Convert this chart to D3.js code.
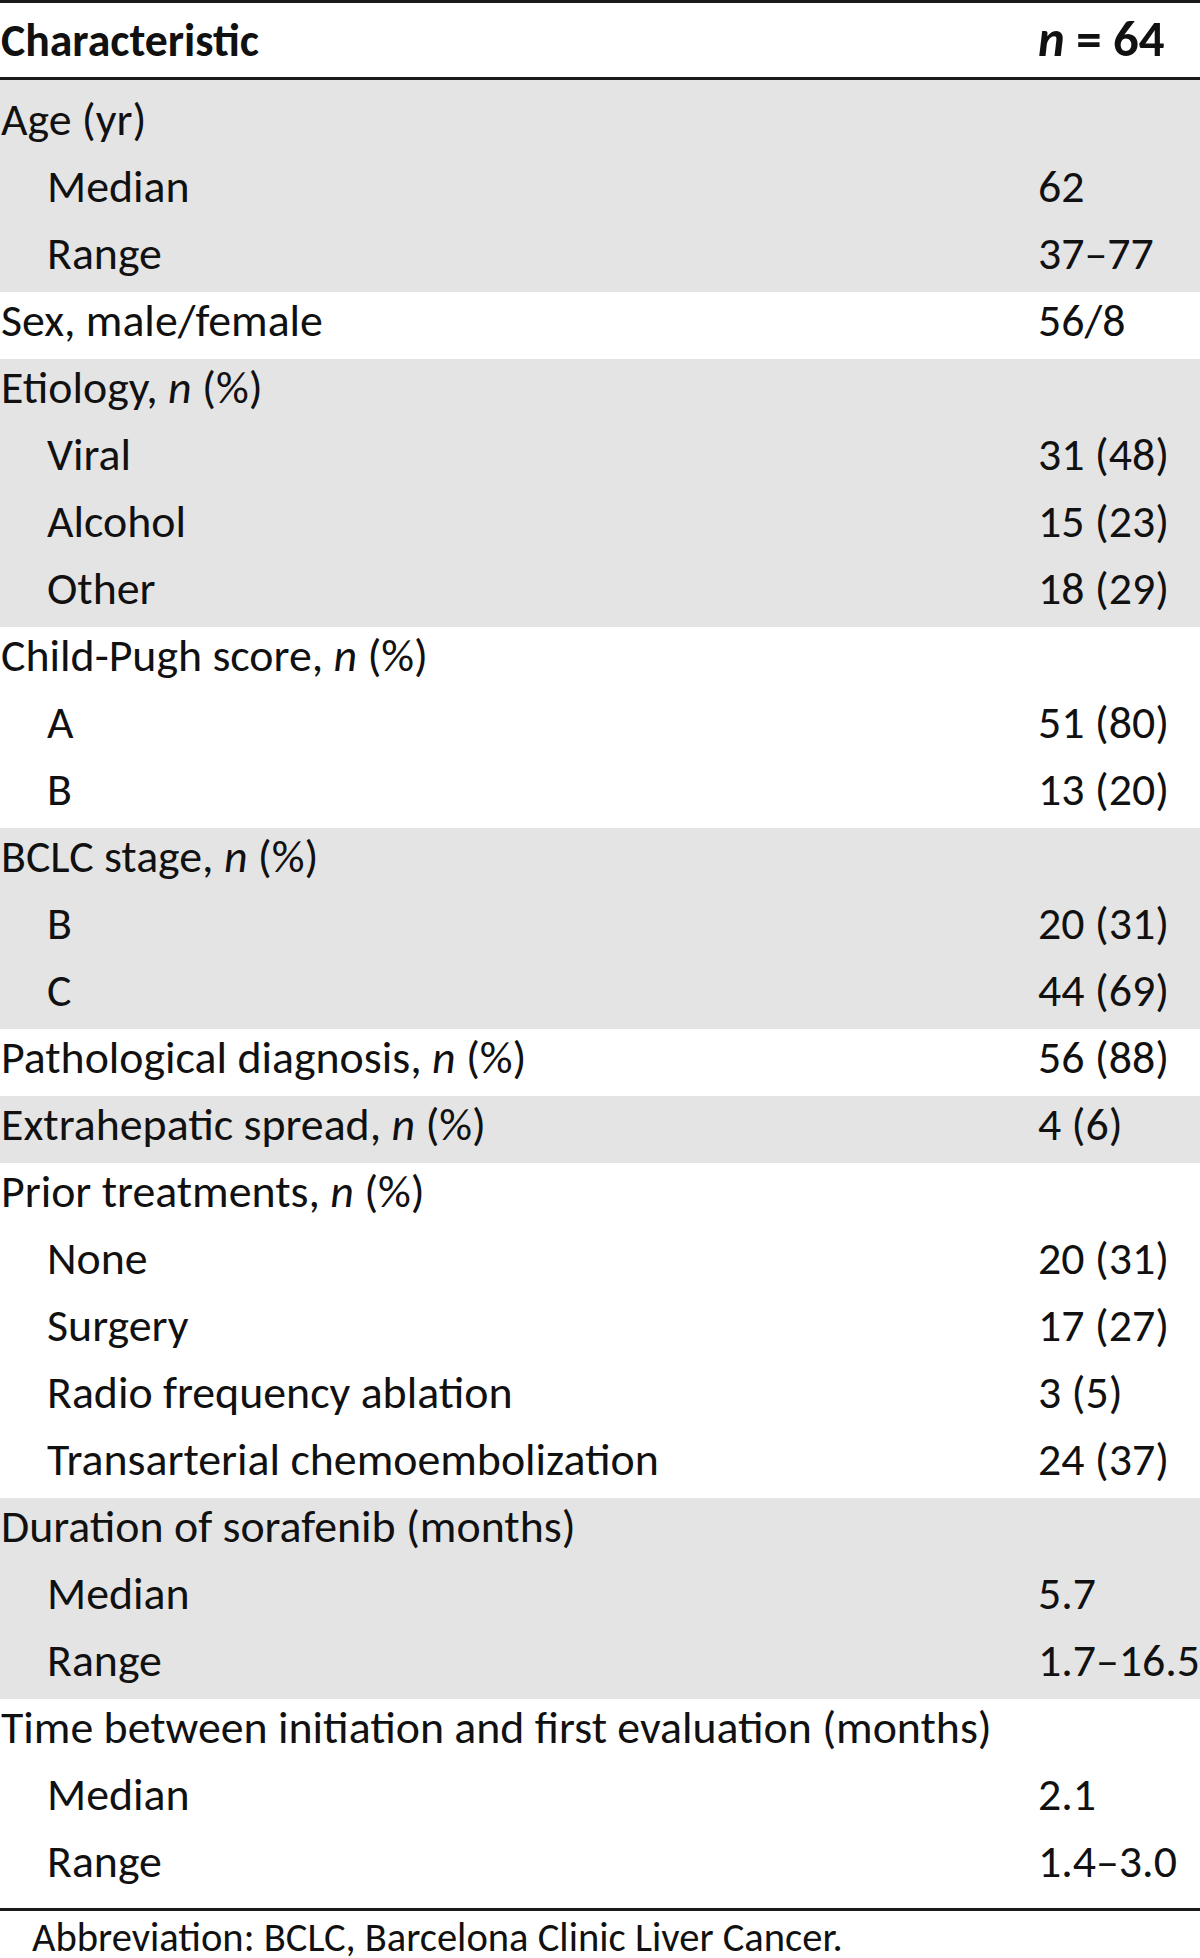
<!DOCTYPE html>
<html>
<head>
<meta charset="utf-8">
<script src="https://cdn.jsdelivr.net/npm/d3@7"></script>
<style>
  body { margin: 0; background: #fff; }
  svg { display: block; }
  text { white-space: pre; }
</style>
</head>
<body>
<div id="chart"></div>
<script>
// table content (underscores mark italic parts)
const header = ["Characteristic", "_n_ = 64"];
const labels = [
    "Age (yr)", "Median", "Range",
    "Sex, male/female",
    "Etiology, _n_ (%)", "Viral", "Alcohol", "Other",
    "Child-Pugh score, _n_ (%)", "A", "B",
    "BCLC stage, _n_ (%)", "B", "C",
    "Pathological diagnosis, _n_ (%)",
    "Extrahepatic spread, _n_ (%)",
    "Prior treatments, _n_ (%)", "None", "Surgery", "Radio frequency ablation", "Transarterial chemoembolization",
    "Duration of sorafenib (months)", "Median", "Range",
    "Time between initiation and first evaluation (months)", "Median", "Range"
];
const values = [
    "", "62", "37–77",
    "56/8",
    "", "31 (48)", "15 (23)", "18 (29)",
    "", "51 (80)", "13 (20)",
    "", "20 (31)", "44 (69)",
    "56 (88)",
    "4 (6)",
    "", "20 (31)", "17 (27)", "3 (5)", "24 (37)",
    "", "5.7", "1.7–16.5",
    "", "2.1", "1.4–3.0"
];
const indent = [0,1,1, 0, 0,1,1,1, 0,1,1, 0,1,1, 0, 0, 0,1,1,1,1, 0,1,1, 0,1,1];
const group  = [0,0,0, 1, 2,2,2,2, 3,3,3, 4,4,4, 5, 6, 7,7,7,7,7, 8,8,8, 9,9,9];
const footnote = "Abbreviation: BCLC, Barcelona Clinic Liver Cancer.";

const width = 1200, height = 1958;
const rowH = 67, top0 = 91;
const fontFamily = "Carlito, Lato, 'Open Sans', sans-serif";

const svg = d3.select("#chart").append("svg")
    .attr("width", width)
    .attr("height", height);

const y = d3.scaleBand()
    .domain(d3.range(labels.length))
    .range([top0, top0 + rowH * labels.length]);

const x = d3.scaleOrdinal()
    .domain(["label", "sub", "value"])
    .range([1, 47, 1038]);

// size a font so a sample string has the wanted width
function fitSize(str, target, weight) {
    const t = svg.append("text")
        .attr("font-family", fontFamily)
        .attr("font-weight", weight || "normal")
        .attr("font-size", 100)
        .text(str);
    const w = t.node().getComputedTextLength();
    t.remove();
    return 100 * target / w;
}
const bodySize = fitSize("Transarterial chemoembolization", 612);
const headSize = fitSize("Characteristic", 258, "bold");
const headValSize = fitSize("n = 64", 127, "bold");
const noteSize = fitSize(footnote, 811);

function rich(sel, str) {
    str.split("_").forEach((part, i) => {
        if (!part) return;
        sel.append("tspan")
            .attr("font-style", i % 2 ? "italic" : null)
            .text(part);
    });
}

// shading for alternate groups
svg.append("g").selectAll("rect")
    .data(d3.range(labels.length).filter(i => group[i] % 2 === 0))
    .join("rect")
    .attr("x", 0)
    .attr("y", i => i === 0 ? 80 : y(i))
    .attr("width", width)
    .attr("height", i => i === 0 ? y(i) + y.bandwidth() - 80 : y.bandwidth())
    .attr("fill", "#e4e4e4");

// rules
svg.append("g").selectAll("rect")
    .data([0, 77, 1908])
    .join("rect")
    .attr("x", 0)
    .attr("y", d => d)
    .attr("width", width)
    .attr("height", 3)
    .attr("fill", "#1a1a1a");

// header
const head = svg.append("g")
    .attr("font-family", fontFamily)
    .attr("font-weight", "bold")
    .attr("fill", "#111");
head.append("text").attr("x", x("label")).attr("y", 56)
    .attr("font-size", headSize).call(rich, header[0]);
head.append("text").attr("x", x("value")).attr("y", 56)
    .attr("font-size", headValSize).call(rich, header[1]);

// body rows
const rows = svg.append("g")
    .attr("font-family", fontFamily)
    .attr("font-size", bodySize)
    .attr("fill", "#111")
    .selectAll("g")
    .data(d3.range(labels.length))
    .join("g")
    .attr("transform", i => "translate(0," + (y(i) + 44) + ")");

rows.append("text")
    .attr("x", i => indent[i] ? x("sub") : x("label"))
    .each(function(i) { rich(d3.select(this), labels[i]); });

rows.append("text")
    .attr("x", x("value"))
    .text(i => values[i]);

// footnote
svg.append("text")
    .attr("x", 32)
    .attr("y", 1951)
    .attr("font-family", fontFamily)
    .attr("font-size", noteSize)
    .attr("fill", "#111")
    .text(footnote);
</script>
</body>
</html>
